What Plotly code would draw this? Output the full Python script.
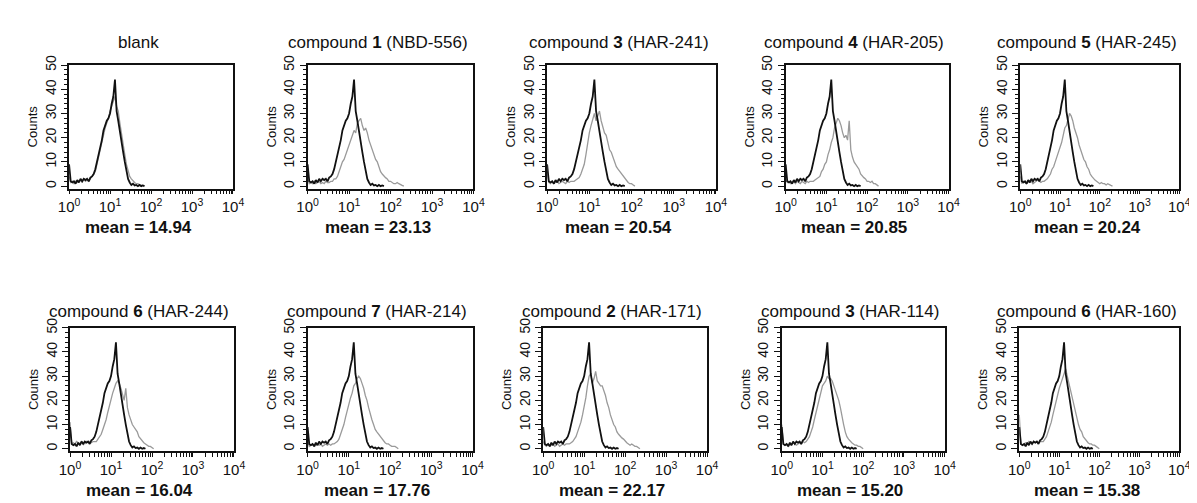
import numpy as np
import plotly.graph_objects as go

# flow cytometry histograms: counts per log-channel (log10 of fluorescence)
channel_step = 0.04

titles = ["blank", "compound <b>1</b> (NBD-556)", "compound <b>3</b> (HAR-241)",
          "compound <b>4</b> (HAR-205)", "compound <b>5</b> (HAR-245)",
          "compound <b>6</b> (HAR-244)", "compound <b>7</b> (HAR-214)",
          "compound <b>2</b> (HAR-171)", "compound <b>3</b> (HAR-114)",
          "compound <b>6</b> (HAR-160)"]
means = ["14.94", "23.13", "20.54", "20.85", "20.24",
         "16.04", "17.76", "22.17", "15.20", "15.38"]

# untreated control (black), same in every panel
control = [9, 2, 1.5, 2, 1, 2.5, 1.5, 3, 2, 3, 2.5, 3, 2, 3.5, 4,
           5, 7, 10, 12, 15, 19, 23, 25, 27, 28, 30, 34, 37, 44,
           31, 27, 22, 18, 14, 10, 6, 3, 1.5, 0.5, 1, 0.3, 0.5, 0, 0.5, 0, 0.3, 0]

# treated samples (grey)
g_blank = [4, 1.5, 2, 1, 2, 1.5, 2, 2.5, 1.5, 3, 2, 2.5, 2, 3, 3.5,
           4.5, 6, 9, 12, 15, 18, 22, 24, 26, 28, 31, 33, 35, 37,
           33, 31, 26, 21, 17, 13, 9, 6, 4, 3, 2, 1.5, 1, 1, 0.5, 0.5, 0.3, 0]
g_c1 = [3, 1, 1.5, 1, 2, 1, 1.5, 2, 1, 1.5, 1, 2, 1.5, 1.5, 2,
        2, 3, 3, 4, 6, 8, 10, 11, 13, 15, 17, 19, 21, 23,
        22, 26, 27, 28, 25, 23, 24, 22, 19, 17, 15, 13, 11, 10, 8, 6, 5, 4, 3.5, 3,
        2, 2, 1.5, 1, 1, 1.5, 1, 0.5, 0.3, 0]
g_c3a = [6, 1.5, 1, 2, 1, 1.5, 2, 1, 1.5, 2, 1.5, 1, 2, 1.5, 2,
         2, 2, 2.5, 3, 3.5, 5, 7, 9, 13, 18, 22, 25, 28, 30,
         27, 29, 31, 27, 24, 22, 21, 18, 15, 14, 12, 10, 8, 7, 6, 5, 4, 3, 2, 1.5, 1, 1, 0.5, 0]
g_c4 = [3, 1.5, 2, 1, 1.5, 2, 1, 2, 1.5, 1, 2, 1.5, 1, 2, 1.5,
        2, 2, 2, 2.5, 3, 3.5, 4, 6, 7, 9, 10, 13, 15, 18,
        20, 24, 26, 28, 27, 25, 22, 20, 21, 19, 27, 15, 12, 10, 9, 8, 7, 5, 4, 3.5,
        3, 2, 2, 1.5, 2, 1, 1, 0.5, 0]
g_c5 = [4, 1, 2, 1.5, 1, 2, 1.5, 2, 1, 1.5, 2, 2.5, 2, 1.5, 2,
        2, 2.5, 3, 4, 5, 7, 8, 10, 12, 14, 16, 18, 21, 24,
        25, 28, 30, 29, 27, 24, 22, 20, 17, 15, 13, 11, 10, 8, 7, 5, 4, 3, 2.5, 2,
        1.5, 1, 1.5, 1, 1, 0.5, 1, 0.5, 0.3, 0]
g_c6a = [11, 2, 2.5, 2, 3, 2.5, 2, 3, 2.5, 2, 3, 2.5, 3, 2.5, 3,
         3, 3, 4, 5, 6, 8, 10, 12, 15, 18, 20, 23, 25, 27,
         28, 27, 25, 22, 20, 25, 17, 14, 12, 10, 9, 8, 7, 5, 4, 3, 2.5, 2, 1.5, 1, 1, 0.5, 0]
g_c7 = [3, 1, 1.5, 2, 1, 1.5, 2, 1.5, 2, 1, 1.5, 2, 1.5, 2, 1.5,
        2, 2, 2.5, 3, 4, 6, 8, 10, 13, 16, 19, 21, 23, 26,
        27, 29, 30, 29, 27, 25, 22, 20, 17, 14, 12, 10, 8, 7, 6, 5, 4, 3, 2.5, 2,
        2, 1.5, 1, 1, 1, 0.5, 0]
g_c2 = [3, 1.5, 1, 2, 1, 1.5, 2, 1, 1.5, 2, 1, 1.5, 2, 1.5, 2,
        2, 2, 2.5, 3, 4, 5, 7, 9, 11, 14, 17, 21, 26, 30,
        31, 27, 29, 32, 28, 27, 26, 26, 24, 22, 19, 17, 14, 12, 10, 9, 7, 6, 5, 4.5,
        4, 3, 2.5, 2, 1.5, 2, 1.5, 1, 1, 0.5, 0]
g_c3b = [10, 2, 1.5, 2, 1, 2, 1.5, 2.5, 2, 1.5, 2, 2.5, 2, 3, 2.5,
         3, 4, 5, 7, 9, 12, 15, 18, 21, 24, 26, 27, 28, 30,
         29, 29, 28, 26, 24, 22, 20, 17, 13, 10, 7, 5, 4, 3, 2.5, 2, 1.5, 1.5, 1, 1, 0.5, 0]
g_c6b = [14, 2, 1.5, 2, 2.5, 2, 3, 2.5, 2, 3, 2.5, 3, 2.5, 3, 3,
         3, 4, 5, 7, 9, 11, 14, 17, 20, 23, 25, 27, 29, 31,
         33, 30, 27, 24, 21, 18, 15, 12, 10, 8, 7, 5, 4, 3, 2.5, 2, 2, 1.5, 1.5, 1, 0.5, 0]

treated = [g_blank, g_c1, g_c3a, g_c4, g_c5, g_c6a, g_c7, g_c2, g_c3b, g_c6b]

# panel boxes in pixels: left, right, top, bottom
W, H = 1197, 503
boxes = [(51, 218, 48, 174), (294, 463, 48, 174), (538, 710, 48, 174),
         (781, 947, 48, 174), (1020, 1182, 48, 174),
         (52, 219, 316, 442), (294, 462, 316, 442), (534, 701, 316, 442),
         (777, 943, 316, 442), (1019, 1182, 316, 442)]
title_y = [25, 299]
mean_y = [214, 482]

font_fam = "Liberation Sans, Arial, sans-serif"
minor_x = [d + np.log10(k) for d in range(4) for k in range(2, 10)]

fig = go.Figure()
for i in range(10):
    n = "" if i == 0 else str(i + 1)
    g = treated[i]
    fig.add_trace(go.Scatter(
        x=[k * channel_step for k in range(len(g))], y=g, mode="lines",
        line=dict(color="#9a9a9a", width=1.3), xaxis="x" + n, yaxis="y" + n,
        showlegend=False, hoverinfo="skip"))
    fig.add_trace(go.Scatter(
        x=[k * channel_step for k in range(len(control))], y=control, mode="lines",
        line=dict(color="#111111", width=1.8), xaxis="x" + n, yaxis="y" + n,
        showlegend=False, hoverinfo="skip"))

    l, r, t, b = boxes[i]
    fig.layout["xaxis" + n] = dict(
        domain=[l / W, r / W], anchor="y" + n, range=[0, 4],
        tickmode="array", tickvals=[0, 1, 2, 3, 4],
        ticktext=["10<sup>%d</sup>" % k for k in range(5)],
        ticks="outside", ticklen=4, tickwidth=1.2, tickcolor="#111",
        minor=dict(tickmode="array", tickvals=minor_x, ticks="outside",
                   ticklen=4, tickwidth=1, tickcolor="#111"),
        showline=True, mirror=True, linecolor="#111", linewidth=1.8,
        showgrid=False, zeroline=False, ticklabeloverflow="allow",
        tickfont=dict(family=font_fam, size=15, color="#111"))
    fig.layout["yaxis" + n] = dict(
        domain=[1 - b / H, 1 - t / H], anchor="x" + n, range=[-1, 50],
        tickmode="array", tickvals=[0, 10, 20, 30, 40, 50], tickangle=-90,
        ticks="outside", ticklen=6, tickwidth=1.2, tickcolor="#111",
        minor=dict(dtick=2, tick0=0, ticks="outside", ticklen=3,
                   tickwidth=1, tickcolor="#111"),
        showline=True, mirror=True, linecolor="#111", linewidth=1.8,
        showgrid=False, zeroline=False,
        title=dict(text="Counts", standoff=2,
                   font=dict(family=font_fam, size=13, color="#111")),
        tickfont=dict(family=font_fam, size=14, color="#111"))

    cx = (l + r) / 2 - 13
    row = 0 if i < 5 else 1
    fig.add_annotation(x=cx / W, y=1 - title_y[row] / H, xref="paper", yref="paper",
                       text=titles[i], showarrow=False, xanchor="center", yanchor="middle",
                       font=dict(family=font_fam, size=17, color="#111"))
    fig.add_annotation(x=cx / W, y=1 - mean_y[row] / H, xref="paper", yref="paper",
                       text="<b>mean = %s</b>" % means[i], showarrow=False,
                       xanchor="center", yanchor="middle",
                       font=dict(family=font_fam, size=17, color="#111"))

fig.update_layout(width=W, height=H, margin=dict(l=0, r=0, t=0, b=0),
                  paper_bgcolor="white", plot_bgcolor="white")
fig.write_html("out.html")
